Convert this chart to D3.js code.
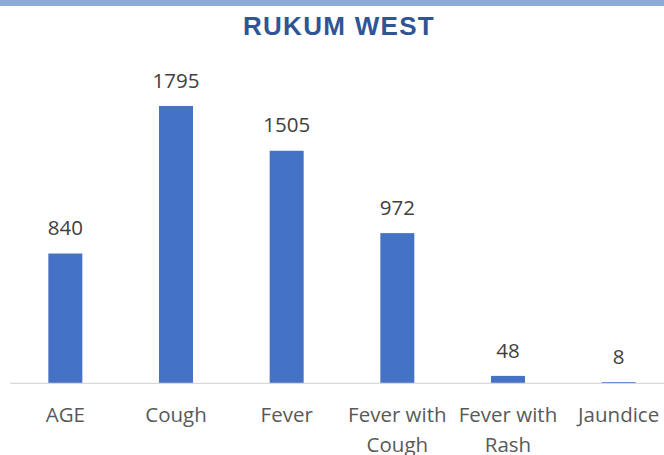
<!DOCTYPE html>
<html>
<head>
<meta charset="utf-8">
<script src="https://cdn.jsdelivr.net/npm/d3@7"></script>
<style>
  body { margin: 0; background: #fff; }
  svg { display: block; }
</style>
</head>
<body>
<script>
// Data
var categories = ["AGE", "Cough", "Fever", "Fever with Cough", "Fever with Rash", "Jaundice"];
var values = [840, 1795, 1505, 972, 48, 8];
var yTicks = [0, 500, 1000, 1500, 2000];

var W = 664, H = 455;

var svg = d3.select("body")
    .append("svg")
    .attr("width", W)
    .attr("height", H);

// top border strip
svg.append("rect")
    .attr("x", 0).attr("y", 0)
    .attr("width", W).attr("height", 6)
    .attr("fill", "#8eaadb");

// Title
svg.append("text")
    .attr("x", 339)
    .attr("y", 34.5)
    .attr("text-anchor", "middle")
    .style("font-family", "Liberation Sans, Arial, sans-serif")
    .style("font-weight", "bold")
    .style("font-size", "26px")
    .style("letter-spacing", "1.3px")
    .style("fill", "#2f5597")
    .text("RUKUM WEST");

// Scales
var x = d3.scaleBand()
    .domain(categories)
    .range([10, 674])
    .paddingInner(0.693)
    .paddingOuter(0.3465);

var y = d3.scaleLinear()
    .domain([0, d3.max(yTicks)])
    .range([383.3, 74.3]);

// Bars
svg.selectAll(".bar")
    .data(values)
    .enter()
    .append("rect")
    .attr("class", "bar")
    .attr("x", function (d, i) { return x(categories[i]); })
    .attr("width", x.bandwidth())
    .attr("y", function (d) { return y(d); })
    .attr("height", function (d) { return y(0) - y(d); })
    .attr("fill", "#4472c4");

// Axis line
svg.append("line")
    .attr("x1", 10).attr("x2", W)
    .attr("y1", y(0)).attr("y2", y(0))
    .attr("stroke", "#d9d9d9")
    .attr("stroke-width", 1.3);

// Data labels
svg.selectAll(".lbl")
    .data(values)
    .enter()
    .append("text")
    .attr("class", "lbl")
    .attr("x", function (d, i) { return x(categories[i]) + x.bandwidth() / 2; })
    .attr("y", function (d) { return y(d) - 18.3; })
    .attr("text-anchor", "middle")
    .style("font-family", "Open Sans, sans-serif")
    .style("font-size", "20.5px")
    .style("fill", "#404040")
    .text(function (d) { return d; });

// Category labels (wrapped like Excel)
var wrapLines = {
    "Fever with Cough": ["Fever with", "Cough"],
    "Fever with Rash": ["Fever with", "Rash"]
};

var cat = svg.selectAll(".cat")
    .data(categories)
    .enter()
    .append("text")
    .attr("class", "cat")
    .attr("text-anchor", "middle")
    .style("font-family", "Open Sans, sans-serif")
    .style("font-size", "20.5px")
    .style("fill", "#595959");

cat.each(function (c) {
    var lines = wrapLines[c] || [c];
    var cx = x(c) + x.bandwidth() / 2;
    d3.select(this).selectAll("tspan")
        .data(lines)
        .enter()
        .append("tspan")
        .attr("x", cx)
        .attr("y", function (d, j) { return 421.7 + j * 30; })
        .text(function (d) { return d; });
});
</script>
</body>
</html>
